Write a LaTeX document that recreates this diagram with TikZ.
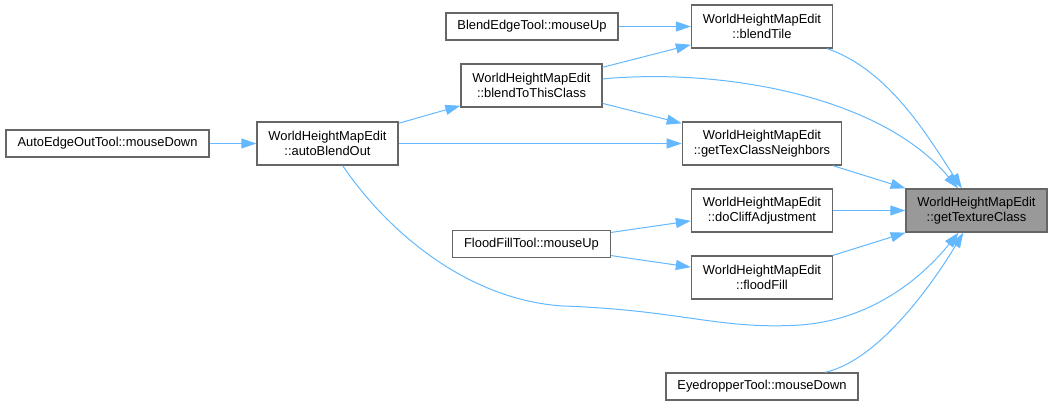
\documentclass[tikz,border=0pt]{standalone}
\usepackage{fontspec}
\setmainfont{Liberation Sans}
\usepackage{xcolor}
\usepackage{tikz}
\usetikzlibrary{arrows.meta}
\definecolor{borde}{HTML}{666666}
\definecolor{gris}{HTML}{999999}
\definecolor{celeste}{HTML}{63B8FF}

\begin{document}
\begin{tikzpicture}[x=1pt,y=-1pt,
  caja/.style={rectangle,draw=borde,line width=1.3pt,fill=white,minimum width=141pt,minimum height=27pt,
    inner xsep=11.5pt,inner ysep=2pt,align=center,font=\fontsize{12.9}{15.5}\selectfont},
  doble/.style={caja,minimum height=43pt},
  raiz/.style={doble,fill=gris},
  flecha/.style={draw=celeste,line width=1pt,-{Triangle[length=15pt,width=10pt]}}
]
  \useasboundingbox (0,0) rectangle (1052,405);
  \node[caja]  (0)  at (107.5,143.5) {AutoEdgeOutTool::mouseDown};
  \node[doble] (1)  at (327.5,143.5) {WorldHeightMapEdit\\::autoBlendOut};
  \node[caja]  (2)  at (532,26.5)    {BlendEdgeTool::mouseUp};
  \node[doble] (3)  at (531.5,85.5)  {WorldHeightMapEdit\\::blendToThisClass};
  \node[caja]  (4)  at (531.5,244)   {FloodFillTool::mouseUp};
  \node[doble] (5)  at (762,26.5)    {WorldHeightMapEdit\\::blendTile};
  \node[doble] (6)  at (762,143.5)   {WorldHeightMapEdit\\::getTexClassNeighbors};
  \node[doble] (7)  at (762,210.5)   {WorldHeightMapEdit\\::doCliffAdjustment};
  \node[doble] (8)  at (762,277.5)   {WorldHeightMapEdit\\::floodFill};
  \node[caja]  (9)  at (762,386.5)   {EyedropperTool::mouseDown};
  \node[raiz]  (10) at (976.5,210.5) {WorldHeightMapEdit\\::getTextureClass};
  \draw[flecha] (0)--(1);
  \draw[flecha] (1)--(3);
  \draw[flecha] (1)--(6);
  \draw[flecha] (2)--(5);
  \draw[flecha] (3)--(5);
  \draw[flecha] (3)--(6);
  \draw[flecha] (4)--(7);
  \draw[flecha] (4)--(8);
  \draw[flecha] (6)--(10);
  \draw[flecha] (7)--(10);
  \draw[flecha] (8)--(10);
  \draw[flecha] (5) .. controls (890,70) and (930,140) .. (10);
  \draw[flecha] (3) .. controls (720,68) and (880,95) .. (10);
  \draw[flecha] (1) .. controls (390,235) and (470,300) .. (563,306)
    .. controls (680,310) and (720,330) .. (800,325)
    .. controls (870,320) and (920,280) .. (10);
  \draw[flecha] (9) .. controls (880,360) and (935,280) .. (10);
\end{tikzpicture}
\end{document}
